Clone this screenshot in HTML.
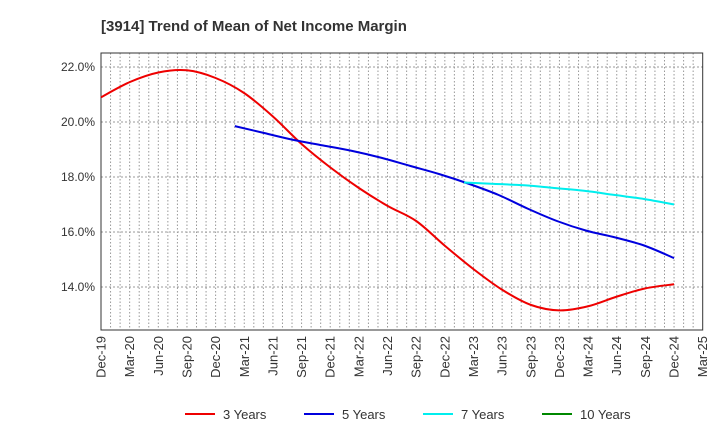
<!DOCTYPE html>
<html><head><meta charset="utf-8"><style>
body{margin:0;background:#fff;font-family:"Liberation Sans",Arial,sans-serif}
</style></head><body>
<svg id="c" width="720" height="440" xmlns="http://www.w3.org/2000/svg" font-family="Liberation Sans, Arial, sans-serif">
<text x="101" y="31" font-size="15" font-weight="bold" fill="#333">[3914]  Trend of Mean of Net Income Margin</text>
</svg>
<script>
const xLabels=["Dec-19","Mar-20","Jun-20","Sep-20","Dec-20","Mar-21","Jun-21","Sep-21","Dec-21","Mar-22","Jun-22","Sep-22","Dec-22","Mar-23","Jun-23","Sep-23","Dec-23","Mar-24","Jun-24","Sep-24","Dec-24","Mar-25"];
const yTicks=[14,16,18,20,22];
const s3=[20.9,21.45,21.8,21.88,21.6,21.05,20.2,19.2,18.35,17.6,16.95,16.4,15.5,14.65,13.9,13.35,13.15,13.3,13.65,13.95,14.1];
const s5=[19.85,19.6,19.35,19.15,18.95,18.7,18.4,18.1,17.75,17.35,16.85,16.4,16.05,15.8,15.5,15.05];
const s7=[17.8,17.75,17.7,17.6,17.5,17.35,17.2,17.0];
const s10=[];
const L=101,R=702.7,T=53,B=330;
const X=i=>L+(R-L)*i/21;
const Y=v=>122-(v-20)*27.5;
const svg=document.getElementById('c');const NS="http://www.w3.org/2000/svg";
function mk(t,a,p){const e=document.createElementNS(NS,t);for(const k in a)e.setAttribute(k,a[k]);(p||svg).appendChild(e);return e;}
const g=mk('g',{});


for(let m=1;m<63;m++){const x=L+(R-L)*m/63;mk('line',{x1:x,x2:x,y1:T,y2:B,stroke:'#999','stroke-dasharray':'1.5,2','stroke-width':1},g);}
yTicks.forEach(v=>{mk('line',{x1:L,x2:R,y1:Y(v),y2:Y(v),stroke:'#999','stroke-dasharray':'2,2',"stroke-width":1},g);
const t=mk('text',{x:L-6,y:Y(v)+4,'text-anchor':'end','font-size':12,fill:'#333'});t.textContent=v.toFixed(1)+'%';

});
xLabels.forEach((l,i)=>{const x=X(i);const t=mk('text',{transform:`translate(${x+4.5},${B+6}) rotate(-90)`,'text-anchor':'end','font-size':13,fill:'#333'});t.textContent=l;

});
const fr=mk('rect',{x:L,y:T,width:R-L,height:B-T,fill:'none',stroke:'#333'});


function path(arr,start){const n=arr.length;const step=(20-start)/(n-1);const p=arr.map((v,i)=>[X(start+i*step),Y(v)]);if(p.length<2)return '';let d=`M${p[0][0]},${p[0][1]}`;
for(let i=0;i<p.length-1;i++){const p0=p[i-1]||p[i],p1=p[i],p2=p[i+1],p3=p[i+2]||p2;
d+=`C${p1[0]+(p2[0]-p0[0])/6},${p1[1]+(p2[1]-p0[1])/6} ${p2[0]-(p3[0]-p1[0])/6},${p2[1]-(p3[1]-p1[1])/6} ${p2[0]},${p2[1]}`;}return d;}
[[s3,0,'#e00','line-3-years'],[s5,4.67,'#00d','line-5-years'],[s7,12.67,'#0ee','line-7-years'],[s10,0,'#080','line-10-years']].forEach(([a,o,c,n])=>{
if(a.length<2)return;const e=mk('path',{d:path(a,o),fill:'none',stroke:c,'stroke-width':2});

});
[['3 Years','#e00',185],['5 Years','#00d',304],['7 Years','#0ee',423],['10 Years','#080',542]].forEach(([l,c,x])=>{
const lg=mk('g',{});


mk('line',{x1:x,x2:x+30,y1:414,y2:414,stroke:c,'stroke-width':2},lg);
const t=mk('text',{x:x+38,y:419,'font-size':13,fill:'#333'},lg);t.textContent=l;});
</script>
</body></html>
